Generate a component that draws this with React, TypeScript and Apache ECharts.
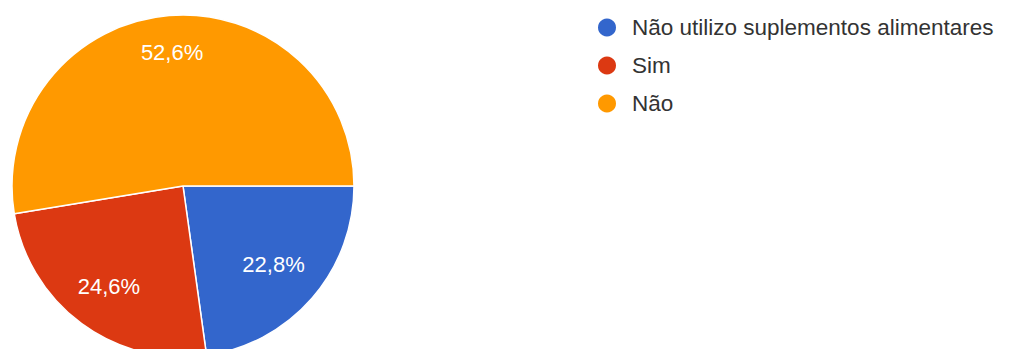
import React, { useEffect, useRef } from "react";
import * as echarts from "echarts";

const categories = ["Não utilizo suplementos alimentares", "Sim", "Não"];
const values = [22.8, 24.6, 52.6];
const colors = ["#3366cc", "#dc3912", "#ff9900"];
// label ring outer radius per slice (label sits at half of it)
const labelRings = [234, 244, 262];

const FONT = "'Liberation Sans', Arial, sans-serif";

export default function App() {
  const ref = useRef<HTMLDivElement>(null);
  useEffect(() => {
    if (!ref.current) return;
    const chart = echarts.init(ref.current, undefined, { renderer: "svg" });
    const data = categories.map((name, i) => ({
      name,
      value: values[i],
      itemStyle: { color: colors[i] },
    }));
    const fmt = (p: any) => p.value.toFixed(1).replace(".", ",") + "%";
    const labelSeries = labelRings.map((outer, idx) => ({
      type: "pie",
      center: [183, 186],
      radius: [0, outer],
      startAngle: 0,
      clockwise: true,
      silent: true,
      legendHoverLink: false,
      z: 3,
      data: categories.map((name, i) => ({
        name,
        value: values[i],
        itemStyle: { color: "rgba(0,0,0,0)" },
        label: { show: i === idx },
      })),
      itemStyle: { color: "rgba(0,0,0,0)", borderWidth: 0 },
      label: {
        show: true,
        position: "inside",
        formatter: fmt,
        color: "#ffffff",
        fontFamily: FONT,
        fontSize: 22,
      },
      labelLine: { show: false },
    }));
    chart.setOption({
      animation: false,
      backgroundColor: "#ffffff",
      legend: {
        orient: "vertical",
        left: 591,
        top: 11,
        icon: "circle",
        itemWidth: 40,
        itemHeight: 20,
        itemGap: 15,
        data: categories,
        textStyle: {
          fontFamily: FONT,
          fontSize: 22.5,
          lineHeight: 22,
          color: "#333333",
        },
      },
      series: [
        {
          type: "pie",
          center: [183, 186],
          radius: [0, 171],
          startAngle: 0,
          clockwise: true,
          silent: true,
          data,
          itemStyle: { borderColor: "#ffffff", borderWidth: 1.5 },
          label: { show: false },
          labelLine: { show: false },
        },
        ...labelSeries,
      ],
    });
    return () => chart.dispose();
  }, []);
  return (
    <div
      ref={ref}
      style={{ position: "fixed", left: 0, top: 0, width: 1009, height: 349 }}
    />
  );
}
